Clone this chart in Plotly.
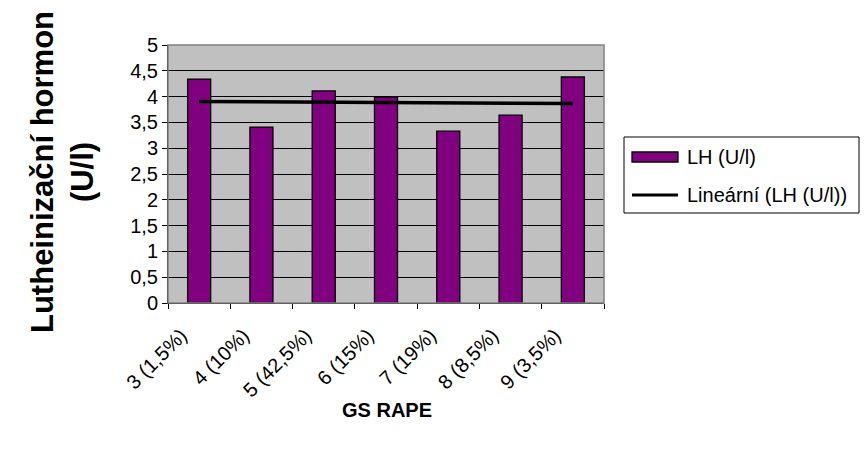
import numpy as np
import plotly.graph_objects as go

# LH concentration by GS RAPE group
categories = ["3 (1,5%)", "4 (10%)", "5 (42,5%)", "6 (15%)", "7 (19%)", "8 (8,5%)", "9 (3,5%)"]
lh_values = [4.34, 3.41, 4.11, 3.99, 3.33, 3.64, 4.38]
y_ticks = [0, 0.5, 1, 1.5, 2, 2.5, 3, 3.5, 4, 4.5, 5]
y_tick_labels = ["0", "0,5", "1", "1,5", "2", "2,5", "3", "3,5", "4", "4,5", "5"]

# linear trend fitted over category index
idx = np.arange(1, len(lh_values) + 1)
slope, intercept = np.polyfit(idx, lh_values, 1)
trend = slope * idx + intercept

W, H = 867, 449
L, R, T, B = 168, 604, 45, 303  # plot area in pixels


def px(x):
    return (x - L) / (R - L)


def py(y):
    return (B - y) / (B - T)


FONT = "Liberation Sans, Arial, sans-serif"
FS = 20

fig = go.Figure()
fig.add_trace(go.Bar(
    x=categories, y=lh_values, name="LH (U/l)",
    marker=dict(color="#800080", line=dict(color="black", width=1.3)),
    showlegend=False,
))
fig.add_trace(go.Scatter(
    x=categories, y=trend, mode="lines", name="Lineární (LH (U/l))",
    line=dict(color="black", width=3.5), showlegend=False,
))

# legend drawn as box, swatches and labels
shapes = [
    dict(type="rect", xref="paper", yref="paper",
         x0=px(624), x1=px(859), y0=py(137), y1=py(213),
         line=dict(color="black", width=1), fillcolor="white"),
    dict(type="rect", xref="paper", yref="paper",
         x0=px(632), x1=px(678), y0=py(152), y1=py(162),
         line=dict(color="black", width=1.3), fillcolor="#800080"),
    dict(type="line", xref="paper", yref="paper",
         x0=px(632), x1=px(678), y0=py(195), y1=py(195),
         line=dict(color="black", width=3)),
    # plot border
    dict(type="rect", xref="paper", yref="paper", x0=0, x1=1, y0=0, y1=1,
         line=dict(color="#808080", width=1.5), layer="above"),
]
annotations = [
    dict(text="LH (U/l)", xref="paper", yref="paper", x=px(685), y=py(157),
         xanchor="left", yanchor="middle", showarrow=False,
         font=dict(family=FONT, size=FS, color="black")),
    dict(text="Lineární (LH (U/l))", xref="paper", yref="paper", x=px(685), y=py(195),
         xanchor="left", yanchor="middle", showarrow=False,
         font=dict(family=FONT, size=FS, color="black")),
    # axis titles
    dict(text="<b>Lutheinizační hormon<br>(U/l)</b>", xref="paper", yref="paper",
         x=px(62), y=py(172), xanchor="center", yanchor="middle",
         textangle=-90, showarrow=False,
         font=dict(family=FONT, size=31, color="black")),
    dict(text="<b>GS RAPE</b>", xref="paper", yref="paper",
         x=px(387), y=py(410), xanchor="center", yanchor="middle",
         showarrow=False, font=dict(family=FONT, size=FS, color="black")),
]

fig.update_layout(
    width=W, height=H,
    margin=dict(l=L, r=W - R, t=T, b=H - B),
    paper_bgcolor="white", plot_bgcolor="#C0C0C0",
    bargap=0.63,
    font=dict(family=FONT, size=FS, color="black"),
    shapes=shapes, annotations=annotations,
    xaxis=dict(
        type="category", tickangle=-45, ticks="outside", ticklen=5,
        tickson="boundaries", tickcolor="black",
        showline=True, linecolor="black", linewidth=1,
        showgrid=False, ticklabelstandoff=12, ticklabelshift=-18,
        tickfont=dict(family=FONT, size=FS),
    ),
    yaxis=dict(
        range=[0, 5], tickvals=y_ticks, ticktext=y_tick_labels,
        ticks="outside", ticklen=5, tickcolor="black",
        showline=True, linecolor="black", linewidth=1,
        showgrid=True, gridcolor="black", gridwidth=1,
        zeroline=False,
        tickfont=dict(family=FONT, size=FS),
    ),
)

fig.write_html("out.html")
